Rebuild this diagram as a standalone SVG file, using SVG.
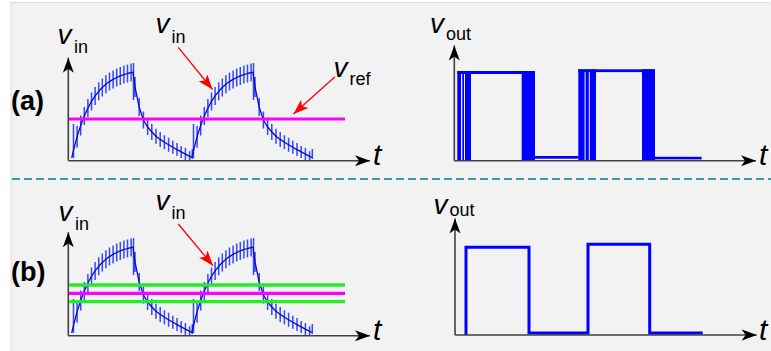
<svg xmlns="http://www.w3.org/2000/svg" xmlns:xlink="http://www.w3.org/1999/xlink" width="771" height="351" viewBox="0 0 771 351">
<style>
.bg{fill:#f2f2f2;stroke:#c4c4c4;stroke-width:1;stroke-dasharray:1 1}
.axis{fill:none;stroke:#404040;stroke-width:1.6;marker-end:url(#axhead)}
.curve{fill:none;stroke:#0a0acc;stroke-width:1.3;stroke-linejoin:round}
.ticks{fill:none;stroke:#3348ff;stroke-width:1.5}
.ref{fill:none;stroke:#ff00ff;stroke-width:3.2}
.hyst{fill:none;stroke:#22ee22;stroke-width:3.3}
.sq{fill:#0000ff}
.sqline{fill:none;stroke:#0000ff;stroke-width:3}
.ptr{fill:none;stroke:#ff0000;stroke-width:1.3;marker-end:url(#redhead)}
.div{fill:none;stroke:#31a1a1;stroke-width:2;stroke-dasharray:8 4}
.v{font-family:"Liberation Sans",Arial,sans-serif;font-style:italic;font-size:28px;fill:#000}
.sub{font-style:normal;font-size:18px}
.t{font-family:"Liberation Sans",Arial,sans-serif;font-style:italic;font-size:30px;fill:#000}
.lbl{font-family:"Liberation Sans",Arial,sans-serif;font-weight:bold;font-size:27px;fill:#000}
</style>
<defs>
<marker id="axhead" markerUnits="userSpaceOnUse" markerWidth="16" markerHeight="12" refX="15" refY="6" orient="auto" viewBox="0 0 16 12">
<path d="M0,0.5 L15,6 L0,11.5 L4,6 z" fill="#000"/>
</marker>
<marker id="redhead" markerUnits="userSpaceOnUse" markerWidth="15" markerHeight="12" refX="15" refY="6" orient="auto" viewBox="0 0 15 12">
<path d="M0,0.5 L15,6 L0,11.5 L3.5,6 z" fill="#ff0000"/>
</marker>
<g id="wave">
<path class="ticks" d="M73.5,124V158 M77.1,125.7V147.7 M80.7,115.4V135.4 M84.3,107V125 M87.9,99V117 M91.5,92.4V110.4 M95.1,86.9V104.9 M98.7,82.3V100.3 M102.3,78.5V96.5 M105.9,75.3V93.3 M109.5,72.6V90.6 M113.1,70.4V88.4 M116.7,68.5V86.5 M120.3,66.9V84.9 M123.9,65.6V83.6 M127.5,64.5V82.5 M131.1,63.6V81.6 M133.5,63V100 M135,77V97 M139.2,98V116 M143.4,111.5V128.5 M147.6,119V135 M151.8,124V140 M156,128.8V143.8 M160.2,131.9V146.9 M164.4,135.2V149.2 M168.6,137.8V151.8 M172.8,140.7V153.7 M177,143.1V156.1 M181.2,145.9V157.9 M185.4,148.1V160 M189.6,151.3V160 M192.3,149V159"/>
<path class="curve" d="M71.7,158 L73.5,150.3 L77.1,136.7 L80.7,125.4 L84.3,116 L87.9,108 L91.5,101.4 L95.1,95.9 L98.7,91.3 L102.3,87.5 L105.9,84.3 L109.5,81.6 L113.1,79.4 L116.7,77.5 L120.3,75.9 L123.9,74.6 L127.5,73.5 L131.1,72.6 L133,72.2 L135,87 L139.2,107 L143.4,120 L147.6,127 L151.8,132 L156,136.3 L160.2,139.4 L164.4,142.2 L168.6,144.8 L172.8,147.2 L177,149.6 L181.2,151.9 L185.4,154.1 L189.6,156.3 L192,157.5"/>
</g>
</defs>

<rect x="0" y="0" width="771" height="351" fill="#ffffff"/>
<rect class="bg" x="11" y="2.5" width="800" height="400"/>
<line class="div" x1="12" y1="179" x2="771" y2="179"/>

<g id="panel-a-input">
<text class="lbl" x="11" y="110">(a)</text>
<use href="#wave"/>
<use href="#wave" x="120"/>
<line class="ref" x1="68.3" y1="119" x2="345" y2="119"/>
<polyline class="axis" points="68.3,160.7 68.3,57.7"/>
<polyline class="axis" points="68.3,160.7 370,160.7"/>
<text class="v" x="57.5" y="44.3">v<tspan class="sub" x="74" y="53.3">in</tspan></text>
<text class="v" x="155.5" y="33.3">v<tspan class="sub" x="171.5" y="43.3">in</tspan></text>
<text class="v" x="333.5" y="77">v<tspan class="sub" x="349.5" y="84.5">ref</tspan></text>
<text class="t" x="373" y="165">t</text>
</g>

<g id="panel-a-output">
<rect class="sq" x="457.3" y="71" width="3.7" height="89.7"/>
<rect class="sq" x="462.3" y="71" width="1.7" height="89.7"/>
<rect class="sq" x="465" y="71" width="6" height="89.7"/>
<rect class="sq" x="457.3" y="71" width="77.7" height="3"/>
<rect class="sq" x="521.7" y="71" width="13.3" height="89.7"/>
<rect class="sq" x="535" y="156" width="43.3" height="2.7"/>
<rect class="sq" x="578.3" y="69.3" width="6.3" height="91.4"/>
<rect class="sq" x="585.6" y="69.3" width="3.2" height="91.4"/>
<rect class="sq" x="589.8" y="69.3" width="6.2" height="91.4"/>
<rect class="sq" x="578.3" y="69.3" width="76.7" height="2.8"/>
<rect class="sq" x="642" y="69.3" width="13" height="91.4"/>
<rect class="sq" x="655" y="156.8" width="46.7" height="2.6"/>
<polyline class="axis" points="454.3,160.7 454.3,45.5"/>
<polyline class="axis" points="454.3,160.7 756,160.7"/>
<text class="v" x="430" y="33.3">v<tspan class="sub" x="446" y="40">out</tspan></text>
<text class="t" x="759" y="165">t</text>
</g>

<g id="panel-b-input">
<text class="lbl" x="11" y="281">(b)</text>
<use href="#wave" y="175"/>
<use href="#wave" x="120" y="175"/>
<line class="hyst" x1="69.3" y1="285" x2="345" y2="285"/>
<line class="hyst" x1="69.3" y1="301.7" x2="345" y2="301.7"/>
<line class="ref" x1="68.3" y1="293.3" x2="345" y2="293.3"/>
<polyline class="axis" points="68.3,335.7 68.3,232.3"/>
<polyline class="axis" points="68.3,335.7 370,335.7"/>
<text class="v" x="58.5" y="220.7">v<tspan class="sub" x="75" y="229.7">in</tspan></text>
<text class="v" x="155.5" y="209.5">v<tspan class="sub" x="171.5" y="218.5">in</tspan></text>
<text class="t" x="373" y="340">t</text>
</g>

<g id="panel-b-output">
<path class="sqline" d="M466,335 V247.3 H529 V333 H588 V244.3 H649.7 V333 H702.7"/>
<polyline class="axis" points="455,335 455,218.5"/>
<polyline class="axis" points="455,335 756.7,335"/>
<text class="v" x="433.5" y="214">v<tspan class="sub" x="449.5" y="216">out</tspan></text>
<text class="t" x="759" y="340">t</text>
</g>

<g id="connectors">
<line class="ptr" x1="178.3" y1="47.3" x2="212.5" y2="89.5"/>
<line class="ptr" x1="335" y1="76.7" x2="293.5" y2="114"/>
<line class="ptr" x1="178.3" y1="224" x2="213" y2="265.7"/>
</g>
</svg>
